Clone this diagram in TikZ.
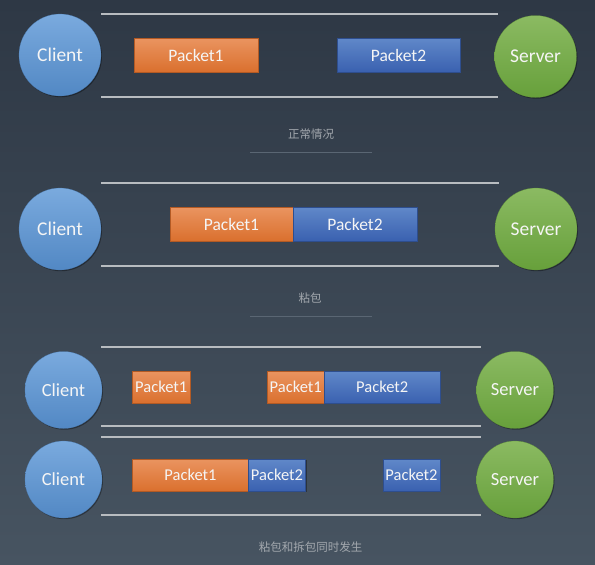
\documentclass[tikz,border=0pt]{standalone}
\usepackage{fontspec}
\setmainfont{Carlito}
\newfontfamily\cjk{Noto Sans CJK SC}
\usetikzlibrary{shadows}
\definecolor{bgtop}{HTML}{2E3845}
\definecolor{bgbot}{HTML}{475461}
\definecolor{cltop}{HTML}{7AAADE}
\definecolor{clbot}{HTML}{5288C4}
\definecolor{svtop}{HTML}{8BBA62}
\definecolor{svbot}{HTML}{67A03B}
\definecolor{ortop}{HTML}{EA9460}
\definecolor{orbot}{HTML}{DA702E}
\definecolor{orline}{HTML}{B35A24}
\definecolor{bltop}{HTML}{6088C9}
\definecolor{blbot}{HTML}{3A61B0}
\definecolor{blline}{HTML}{2E4E8E}
\definecolor{railc}{HTML}{B8BCC0}
\definecolor{ulc}{HTML}{5A6673}
\definecolor{labc}{HTML}{A3A8AE}
\tikzset{
  shad/.style={drop shadow={shadow xshift=1pt,shadow yshift=-1.2pt,opacity=0.35,fill=black}},
  client/.style={circle,shad,top color=cltop,bottom color=clbot,draw=clbot!90!black,line width=0.2pt,inner sep=0pt,minimum size=#1,text=white!96!black},
  server/.style={circle,shad,top color=svtop,bottom color=svbot,draw=svbot!90!black,line width=0.2pt,inner sep=0pt,minimum size=#1,text=white!96!black},
  pka/.style={rectangle,shad,top color=ortop,bottom color=orbot,draw=orline,line width=0.6pt,inner sep=0pt,text=white!96!black},
  pkb/.style={rectangle,shad,top color=bltop,bottom color=blbot,draw=blline,line width=0.6pt,inner sep=0pt,text=white!96!black},
  rail/.style={draw=railc,line width=1.6pt},
  uline/.style={draw=ulc,line width=1.4pt},
  lab/.style={text=labc,font=\cjk\fontsize{11.5}{13}\selectfont,inner sep=0pt},
  bigf/.style={font=\fontsize{19.5}{22}\selectfont},
  midf/.style={font=\fontsize{18.5}{21}\selectfont},
  pkbig/.style={font=\fontsize{17.5}{20}\selectfont},
  pksmall/.style={font=\fontsize{16.5}{19}\selectfont},
}
\begin{document}
\begin{tikzpicture}[x=1pt,y=-1pt]
\shade[top color=bgtop,bottom color=bgbot] (0,0) rectangle (595,565);
\useasboundingbox (0,0) rectangle (595,565);

% ---------- Section 1 ----------
\draw[rail] (101,14) -- (498,14);
\draw[rail] (101,97) -- (498,97);
\node[client=82pt,bigf] (c1) at (60,55) {Client};
\node[server=82pt,bigf] (s1) at (535.5,56.5) {Server};
\node[pka,pkbig,minimum width=124pt,minimum height=34pt] (a1) at (196,55) {Packet1};
\node[pkb,pkbig,minimum width=123pt,minimum height=34pt] (b1) at (398.5,55) {Packet2};
\node[lab] (l1) at (311,134) {正常情况};
\draw[uline] (250,152.5) -- (372,152.5);

% ---------- Section 2 ----------
\draw[rail] (101,183) -- (499,183);
\draw[rail] (101,266) -- (499,266);
\node[client=82pt,bigf] (c2) at (60,229) {Client};
\node[server=82pt,bigf] (s2) at (536,229) {Server};
\node[pka,pkbig,minimum width=123pt,minimum height=34pt] (a2) at (231.5,224) {Packet1};
\node[pkb,pkbig,minimum width=124pt,minimum height=34pt] (b2) at (355,224) {Packet2};
\node[lab] (l2) at (310,298) {粘包};
\draw[uline] (250,316.5) -- (372,316.5);

% ---------- Section 3 ----------
\draw[rail] (101,347) -- (481,347);
\draw[rail] (101,426) -- (481,426);
\draw[rail] (101,437) -- (481,437);
\draw[rail] (101,515) -- (481,515);
\node[client=77pt,midf] (c3) at (63.5,390) {Client};
\node[server=77pt,midf] (s3) at (515,390) {Server};
\node[client=77pt,midf] (c4) at (63.5,479.5) {Client};
\node[server=77pt,midf] (s4) at (515,479.5) {Server};
\node[pka,pksmall,minimum width=57.5pt,minimum height=32pt] (a3) at (161.25,387) {Packet1};
\node[pka,pksmall,minimum width=57.5pt,minimum height=32pt] (a4) at (295.75,387) {Packet1};
\node[pkb,pksmall,minimum width=115.5pt,minimum height=32pt] (b3) at (382.25,387) {Packet2};
\node[pka,pksmall,minimum width=116pt,minimum height=32pt] (a5) at (190.5,475) {Packet1};
\node[pkb,pksmall,minimum width=57pt,minimum height=32pt] (b4) at (277,475) {Packet2};
\node[pkb,pksmall,minimum width=57pt,minimum height=32pt] (b5) at (411.5,475) {Packet2};
\node[lab] (l3) at (310.5,547) {粘包和拆包同时发生};
\end{tikzpicture}
\end{document}
